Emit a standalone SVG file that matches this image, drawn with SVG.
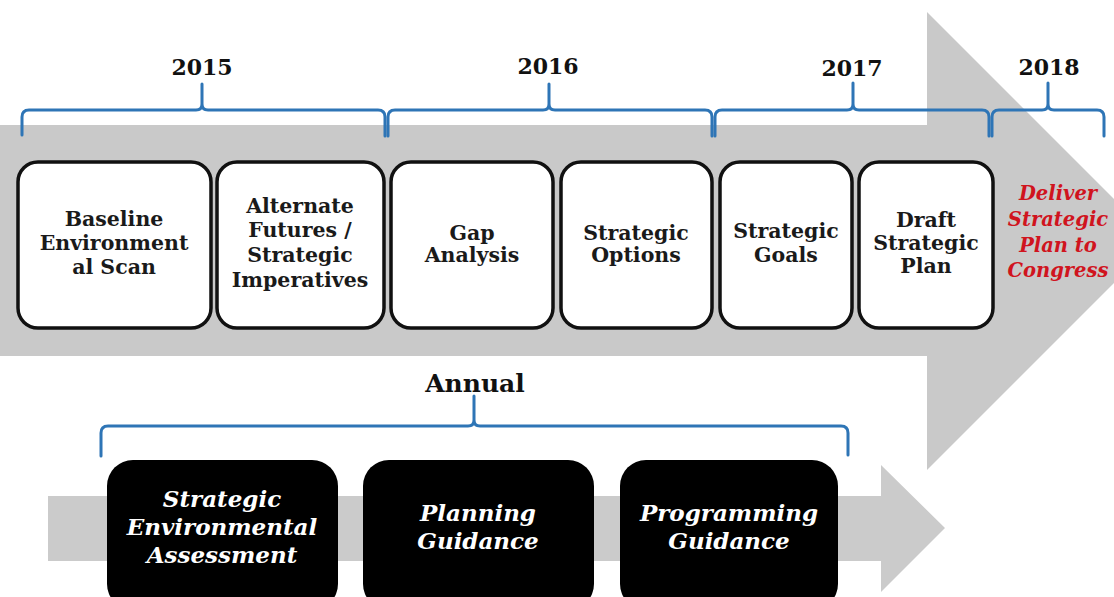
<svg xmlns="http://www.w3.org/2000/svg" width="1114" height="597" viewBox="0 0 1114 597">
<style>
.bg{fill:#ffffff}
.arrow{fill:#c9c9c9}
.arrow2{fill:#cbcbcb}
.box{fill:#ffffff;stroke:#111111;stroke-width:3.5}
.dbox{fill:#000000}
.brace{fill:none;stroke:#2e75b6;stroke-width:3;stroke-linecap:round;stroke-linejoin:round}
.t{font-family:"DejaVu Serif","Liberation Serif",serif;font-weight:bold;font-size:20.5px;fill:#1a1a1a;text-anchor:middle}
.yr{font-family:"DejaVu Serif","Liberation Serif",serif;font-weight:bold;font-size:22px;fill:#111111;text-anchor:middle}
.red{font-family:"DejaVu Serif","Liberation Serif",serif;font-weight:bold;font-style:italic;font-size:19.5px;fill:#d0141e;text-anchor:middle}
.w{font-family:"DejaVu Serif","Liberation Serif",serif;font-weight:bold;font-style:italic;font-size:23px;fill:#ffffff;text-anchor:middle}
.ann{font-family:"DejaVu Serif","Liberation Serif",serif;font-weight:bold;font-size:25px;fill:#111111;text-anchor:middle}
</style>
<rect class="bg" x="0" y="0" width="1114" height="597"/>

<g id="main-arrow">
<polygon class="arrow" points="0,125 927,125 927,12 1156,241 927,470 927,356 0,356"/>
</g>
<g id="annual-arrow">
<polygon class="arrow2" points="48,496 881,496 881,465 945,528 881,592 881,561 48,561"/>
</g>

<g id="connectors">
<path class="brace" d="M22 135 V117 Q22 110 29 110 H196 Q202 110 202 104 V84 M202 104 Q202 110 208 110 H378 Q385 110 385 117 V136"/>
<path class="brace" d="M388 136 V117 Q388 110 395 110 H543 Q549 110 549 104 V84 M549 104 Q549 110 555 110 H705 Q712 110 712 117 V136"/>
<path class="brace" d="M715 136 V117 Q715 110 722 110 H847 Q853 110 853 104 V83 M853 104 Q853 110 859 110 H982 Q989 110 989 117 V136"/>
<path class="brace" d="M992 136 V117 Q992 110 999 110 H1042 Q1048 110 1048 104 V83 M1048 104 Q1048 110 1054 110 H1097 Q1104 110 1104 117 V136"/>
<path class="brace" d="M101 456 V433 Q101 426 108 426 H468 Q474 426 474 420 V396 M474 420 Q474 426 480 426 H841 Q848 426 848 433 V455"/>
</g>

<g id="year-labels">
<text class="yr" x="202" y="75">2015</text>
<text class="yr" x="548" y="74">2016</text>
<text class="yr" x="852" y="76">2017</text>
<text class="yr" x="1049" y="75">2018</text>
<text class="ann" x="475" y="392">Annual</text>
</g>

<g id="n-baseline">
<rect class="box" x="18" y="162" width="193" height="166" rx="20"/>
<text class="t" x="114" y="226">Baseline</text>
<text class="t" x="114" y="250">Environment</text>
<text class="t" x="114" y="274">al Scan</text>
</g>
<g id="n-alternate">
<rect class="box" x="217" y="162" width="167" height="166" rx="20"/>
<text class="t" x="300" y="213">Alternate</text>
<text class="t" x="300" y="237">Futures /</text>
<text class="t" x="300" y="262">Strategic</text>
<text class="t" x="300" y="287">Imperatives</text>
</g>
<g id="n-gap">
<rect class="box" x="391" y="162" width="162" height="166" rx="20"/>
<text class="t" x="472" y="240">Gap</text>
<text class="t" x="472" y="262">Analysis</text>
</g>
<g id="n-options">
<rect class="box" x="561" y="162" width="151" height="166" rx="20"/>
<text class="t" x="636" y="240">Strategic</text>
<text class="t" x="636" y="262">Options</text>
</g>
<g id="n-goals">
<rect class="box" x="720" y="162" width="132" height="166" rx="20"/>
<text class="t" x="786" y="238">Strategic</text>
<text class="t" x="786" y="262">Goals</text>
</g>
<g id="n-draft">
<rect class="box" x="859" y="162" width="134" height="166" rx="20"/>
<text class="t" x="926" y="227">Draft</text>
<text class="t" x="926" y="250">Strategic</text>
<text class="t" x="926" y="273">Plan</text>
</g>
<g id="n-deliver">
<text class="red" x="1058" y="200">Deliver</text>
<text class="red" x="1058" y="226">Strategic</text>
<text class="red" x="1058" y="252">Plan to</text>
<text class="red" x="1058" y="277">Congress</text>
</g>

<g id="n-sea">
<rect class="dbox" x="107" y="460" width="231" height="150" rx="26"/>
<text class="w" x="222" y="507">Strategic</text>
<text class="w" x="222" y="535">Environmental</text>
<text class="w" x="222" y="563">Assessment</text>
</g>
<g id="n-planning">
<rect class="dbox" x="363" y="460" width="231" height="150" rx="26"/>
<text class="w" x="478" y="521">Planning</text>
<text class="w" x="478" y="549">Guidance</text>
</g>
<g id="n-programming">
<rect class="dbox" x="620" y="460" width="218" height="150" rx="26"/>
<text class="w" x="729" y="521">Programming</text>
<text class="w" x="729" y="549">Guidance</text>
</g>
</svg>
